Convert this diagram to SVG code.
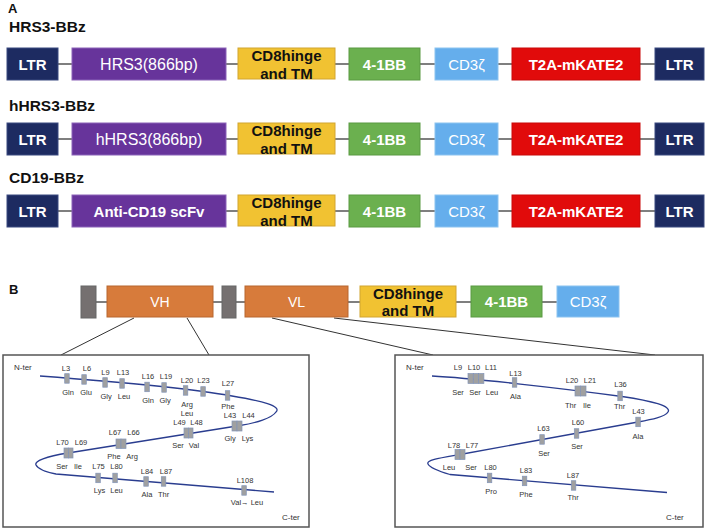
<svg xmlns="http://www.w3.org/2000/svg" width="708" height="530" viewBox="0 0 708 530">
<style>
text{font-family:"Liberation Sans",Arial,sans-serif}
.ttl{font-size:15.5px;font-weight:bold;fill:#111}
.pl{font-size:13px;font-weight:bold;fill:#111}
.bx{stroke-width:1}
.ltr{fill:#1d2b61;stroke:#3b4a80}
.pur{fill:#67349b;stroke:#8b63b8}
.yel{fill:#f1c232;stroke:#d2a531}
.grn{fill:#6bb04f;stroke:#5a9a42}
.blu{fill:#65aeec;stroke:#8cc3f0}
.red{fill:#e10b0b;stroke:#c90a0a}
.org{fill:#d77b3b;stroke:#b8672f}
.gry{fill:#757070;stroke:#666}
.wb{font-size:15px;font-weight:bold;fill:#fff;text-anchor:middle}
.wr{font-size:16px;fill:#fff;text-anchor:middle}
.wr15{font-size:15px;fill:#fff;text-anchor:middle}
.wr14{font-size:14px;fill:#fff;text-anchor:middle}
.kb{font-size:15px;font-weight:bold;fill:#111;text-anchor:middle}
.ln{stroke:#555;stroke-width:1.5;fill:none}
.cn{stroke:#333;stroke-width:1;fill:none}
.frame{fill:#fff;stroke:#555;stroke-width:1.5}
.chain{fill:none;stroke:#2a3d8f;stroke-width:1.3}
.m{fill:#a0a0a0;stroke:#8294b8;stroke-width:0.7}
.s{font-size:7.5px;fill:#333;text-anchor:middle}
.st{font-size:8px;fill:#333}
</style>

<!-- Panel A -->
<text class="pl" x="8" y="13">A</text>
<text class="ttl" x="9" y="32">HRS3-BBz</text>
<text class="ttl" x="9" y="111">hHRS3-BBz</text>
<text class="ttl" x="9" y="183">CD19-BBz</text>

<g id="connectors">
  <!-- row 1 -->
  <path class="ln" d="M58,64H72 M226,64H238 M335,64H349 M420,64H435 M498,64H512 M640,64H655"/>
  <!-- row 2 -->
  <path class="ln" d="M58,139H72 M226,139H238 M335,139H349 M420,139H435 M498,139H512 M640,139H655"/>
  <!-- row 3 -->
  <path class="ln" d="M58,211H72 M226,211H238 M335,211H349 M420,211H435 M498,211H512 M640,211H655"/>
  <!-- panel B row -->
  <path class="ln" d="M96,302H107 M213,302H222 M236,302H245 M348,302H360 M456,302H471 M542,302H557"/>
  <!-- zoom lines -->
  <path class="cn" d="M134,318L61,355 M187,318L209,355 M272,318L433,355 M334,318L655,355"/>
</g>

<!-- Row 1 -->
<g id="r1-ltr-left"><rect class="bx ltr" x="7" y="48" width="51" height="32"/><text class="wb" x="32.5" y="69.5">LTR</text></g>
<g id="r1-hrs3"><rect class="bx pur" x="72" y="48" width="154" height="32"/><text class="wr" x="149" y="69.5">HRS3(866bp)</text></g>
<g id="r1-cd8"><rect class="bx yel" x="238" y="48" width="97" height="31"/><text class="kb" x="286.5" y="61">CD8hinge</text><text class="kb" x="286.5" y="78.5">and TM</text></g>
<g id="r1-41bb"><rect class="bx grn" x="349" y="48" width="71" height="32"/><text class="wb" x="384.5" y="69.5">4-1BB</text></g>
<g id="r1-cd3z"><rect class="bx blu" x="435" y="48" width="63" height="32"/><text class="wr15" x="466.5" y="69.5">CD3ζ</text></g>
<g id="r1-t2a"><rect class="bx red" x="512" y="48" width="128" height="32"/><text class="wb" x="576" y="69.5">T2A-mKATE2</text></g>
<g id="r1-ltr-right"><rect class="bx ltr" x="655" y="48" width="49" height="32"/><text class="wb" x="679.5" y="69.5">LTR</text></g>

<!-- Row 2 -->
<g id="r2-ltr-left"><rect class="bx ltr" x="7" y="123" width="51" height="32"/><text class="wb" x="32.5" y="144.5">LTR</text></g>
<g id="r2-hhrs3"><rect class="bx pur" x="72" y="123" width="154" height="32"/><text class="wr" x="149" y="144.5">hHRS3(866bp)</text></g>
<g id="r2-cd8"><rect class="bx yel" x="238" y="123" width="97" height="31"/><text class="kb" x="286.5" y="136">CD8hinge</text><text class="kb" x="286.5" y="153.5">and TM</text></g>
<g id="r2-41bb"><rect class="bx grn" x="349" y="123" width="71" height="32"/><text class="wb" x="384.5" y="144.5">4-1BB</text></g>
<g id="r2-cd3z"><rect class="bx blu" x="435" y="123" width="63" height="32"/><text class="wr15" x="466.5" y="144.5">CD3ζ</text></g>
<g id="r2-t2a"><rect class="bx red" x="512" y="123" width="128" height="32"/><text class="wb" x="576" y="144.5">T2A-mKATE2</text></g>
<g id="r2-ltr-right"><rect class="bx ltr" x="655" y="123" width="49" height="32"/><text class="wb" x="679.5" y="144.5">LTR</text></g>

<!-- Row 3 -->
<g id="r3-ltr-left"><rect class="bx ltr" x="7" y="195" width="51" height="32"/><text class="wb" x="32.5" y="216.5">LTR</text></g>
<g id="r3-cd19"><rect class="bx pur" x="72" y="195" width="154" height="32"/><text class="wb" x="149" y="216.5">Anti-CD19 scFv</text></g>
<g id="r3-cd8"><rect class="bx yel" x="238" y="195" width="97" height="31"/><text class="kb" x="286.5" y="208">CD8hinge</text><text class="kb" x="286.5" y="225.5">and TM</text></g>
<g id="r3-41bb"><rect class="bx grn" x="349" y="195" width="71" height="32"/><text class="wb" x="384.5" y="216.5">4-1BB</text></g>
<g id="r3-cd3z"><rect class="bx blu" x="435" y="195" width="63" height="32"/><text class="wr15" x="466.5" y="216.5">CD3ζ</text></g>
<g id="r3-t2a"><rect class="bx red" x="512" y="195" width="128" height="32"/><text class="wb" x="576" y="216.5">T2A-mKATE2</text></g>
<g id="r3-ltr-right"><rect class="bx ltr" x="655" y="195" width="49" height="32"/><text class="wb" x="679.5" y="216.5">LTR</text></g>

<!-- Panel B -->
<text class="pl" x="9" y="294">B</text>
<g id="b-bar1"><rect class="bx gry" x="81" y="286" width="15" height="32"/></g>
<g id="b-vh"><rect class="bx org" x="107" y="286" width="106" height="31"/><text class="wr14" x="160" y="307">VH</text></g>
<g id="b-bar2"><rect class="bx gry" x="222" y="286" width="14" height="32"/></g>
<g id="b-vl"><rect class="bx org" x="245" y="286" width="103" height="31"/><text class="wr14" x="296.5" y="307">VL</text></g>
<g id="b-cd8"><rect class="bx yel" x="360" y="286" width="96" height="31"/><text class="kb" x="408" y="299">CD8hinge</text><text class="kb" x="408" y="316">and TM</text></g>
<g id="b-41bb"><rect class="bx grn" x="471" y="286" width="71" height="31"/><text class="wb" x="506.5" y="307">4-1BB</text></g>
<g id="b-cd3z"><rect class="bx blu" x="557" y="286" width="62" height="31"/><text class="wr15" x="588" y="307">CD3ζ</text></g>

<!-- VH detail -->
<g id="vh-detail">
  <rect class="frame" x="3" y="355" width="306" height="172"/>
  <path class="chain" d="M40,376 C120,382 200,390 232,396 C262,401 282,406 276,412 C272,418 256,423 240,425.5 L68,453 C46,456.5 34,461 36,465 C38,469 46,472 56,474 L274,492"/>
  <text class="st" x="14" y="370">N-ter</text>
  <text class="st" x="282" y="520">C-ter</text>
  <rect class="m" x="64.7" y="373.7" width="4.5" height="9.5"/>
  <rect class="m" x="81.8" y="374.7" width="4.5" height="9.5"/>
  <rect class="m" x="102.8" y="377.7" width="4.5" height="9.5"/>
  <rect class="m" x="119.8" y="378.7" width="4.5" height="9.5"/>
  <rect class="m" x="144.8" y="382.2" width="4.5" height="9.5"/>
  <rect class="m" x="161.8" y="382.7" width="4.5" height="9.5"/>
  <rect class="m" x="183.3" y="385.7" width="4.5" height="9.5"/>
  <rect class="m" x="200.8" y="386.7" width="4.5" height="9.5"/>
  <rect class="m" x="225.3" y="390.7" width="4.5" height="9.5"/>
  <rect class="m" x="232" y="421" width="5" height="10"/><rect class="m" x="237" y="421" width="5" height="10"/>
  <rect class="m" x="184" y="428" width="4.5" height="10"/><rect class="m" x="188.5" y="428" width="4.5" height="10"/>
  <rect class="m" x="116" y="439" width="5" height="9.5"/><rect class="m" x="121" y="439" width="5" height="9.5"/>
  <rect class="m" x="64" y="448" width="4.5" height="10"/><rect class="m" x="68.5" y="448" width="4.5" height="10"/>
  <rect class="m" x="95.8" y="473.2" width="4.5" height="9.5"/>
  <rect class="m" x="112.8" y="473.2" width="4.5" height="9.5"/>
  <rect class="m" x="143.8" y="476.7" width="4.5" height="9.5"/>
  <rect class="m" x="161.3" y="476.7" width="4.5" height="9.5"/>
  <rect class="m" x="241.8" y="485.7" width="4.5" height="9.5"/>
  <text class="s" x="66" y="371">L3</text><text class="s" x="87" y="371">L6</text>
  <text class="s" x="68" y="395">Gln</text><text class="s" x="86" y="395">Glu</text>
  <text class="s" x="105.5" y="375">L9</text><text class="s" x="123" y="375">L13</text>
  <text class="s" x="106" y="398.5">Gly</text><text class="s" x="124" y="398.5">Leu</text>
  <text class="s" x="148" y="379">L16</text><text class="s" x="166" y="379">L19</text>
  <text class="s" x="148" y="403">Gln</text><text class="s" x="165" y="403">Gly</text>
  <text class="s" x="187" y="383">L20</text><text class="s" x="203.5" y="383">L23</text>
  <text class="s" x="187" y="406.5">Arg</text><text class="s" x="187" y="415.5">Leu</text>
  <text class="s" x="228" y="386">L27</text><text class="s" x="228" y="409">Phe</text>
  <text class="s" x="230" y="418">L43</text><text class="s" x="248.5" y="418">L44</text>
  <text class="s" x="230" y="441">Gly</text><text class="s" x="247.5" y="441">Lys</text>
  <text class="s" x="179.5" y="425">L49</text><text class="s" x="196.5" y="425">L48</text>
  <text class="s" x="178" y="448">Ser</text><text class="s" x="194" y="448">Val</text>
  <text class="s" x="115" y="435">L67</text><text class="s" x="133.5" y="435">L66</text>
  <text class="s" x="114" y="459">Phe</text><text class="s" x="132" y="459">Arg</text>
  <text class="s" x="62.5" y="445">L70</text><text class="s" x="81" y="445">L69</text>
  <text class="s" x="62" y="469">Ser</text><text class="s" x="78" y="469">Ile</text>
  <text class="s" x="98.5" y="469">L75</text><text class="s" x="116.5" y="469">L80</text>
  <text class="s" x="99.5" y="493">Lys</text><text class="s" x="116.5" y="493">Leu</text>
  <text class="s" x="147" y="474">L84</text><text class="s" x="166" y="474">L87</text>
  <text class="s" x="147" y="497">Ala</text><text class="s" x="163.5" y="497">Thr</text>
  <text class="s" x="245" y="482.5">L108</text>
  <text class="s" x="247" y="505">Val→ Leu</text>
</g>

<!-- VL detail -->
<g id="vl-detail">
  <rect class="frame" x="395" y="355" width="308" height="172"/>
  <path class="chain" d="M432,376 C470,378 560,388 622,396.5 C652,401 672,406 668,412 C665,417 652,419.5 638,422 L460,454.5 C440,458 426,460 428,464 C430,468 438,471 450,474.5 L667,492.5"/>
  <text class="st" x="406" y="370">N-ter</text>
  <text class="st" x="666" y="520">C-ter</text>
  <rect class="m" x="468" y="373.5" width="5.3" height="10"/><rect class="m" x="473.3" y="373.5" width="5.3" height="10"/><rect class="m" x="478.6" y="373.5" width="5.3" height="10"/>
  <rect class="m" x="512.3" y="377.7" width="4.5" height="9.5"/>
  <rect class="m" x="575" y="386" width="5.5" height="10"/><rect class="m" x="580.5" y="386" width="5.5" height="10"/>
  <rect class="m" x="617.8" y="391.2" width="4.5" height="9.5"/>
  <rect class="m" x="635.8" y="417.2" width="4.5" height="9.5"/>
  <rect class="m" x="574.3" y="428.7" width="4.5" height="9.5"/>
  <rect class="m" x="539.8" y="434.7" width="4.5" height="9.5"/>
  <rect class="m" x="455" y="449.5" width="5" height="10"/><rect class="m" x="460" y="449.5" width="5" height="10"/>
  <rect class="m" x="487.3" y="473.2" width="4.5" height="9.5"/>
  <rect class="m" x="522.3" y="476.2" width="4.5" height="9.5"/>
  <rect class="m" x="571.3" y="480.7" width="4.5" height="9.5"/>
  <text class="s" x="458" y="370">L9</text><text class="s" x="474" y="370">L10</text><text class="s" x="491" y="370">L11</text>
  <text class="s" x="458" y="395">Ser</text><text class="s" x="475" y="395">Ser</text><text class="s" x="492" y="395">Leu</text>
  <text class="s" x="515.5" y="376">L13</text><text class="s" x="515.5" y="399">Ala</text>
  <text class="s" x="572" y="383">L20</text><text class="s" x="590" y="383">L21</text>
  <text class="s" x="570.5" y="407.5">Thr</text><text class="s" x="587" y="407.5">Ile</text>
  <text class="s" x="620.5" y="386.5">L36</text><text class="s" x="619.5" y="409">Thr</text>
  <text class="s" x="638.5" y="414">L43</text><text class="s" x="638" y="439">Ala</text>
  <text class="s" x="578" y="425">L60</text><text class="s" x="577" y="449">Ser</text>
  <text class="s" x="543.5" y="431">L63</text><text class="s" x="544" y="456">Ser</text>
  <text class="s" x="454" y="448">L78</text><text class="s" x="472" y="448">L77</text>
  <text class="s" x="449" y="470">Leu</text><text class="s" x="471" y="470">Ser</text>
  <text class="s" x="490.5" y="469.5">L80</text><text class="s" x="491" y="494">Pro</text>
  <text class="s" x="526" y="473">L83</text><text class="s" x="526" y="497">Phe</text>
  <text class="s" x="573" y="478">L87</text><text class="s" x="573" y="500">Thr</text>
</g>
</svg>
